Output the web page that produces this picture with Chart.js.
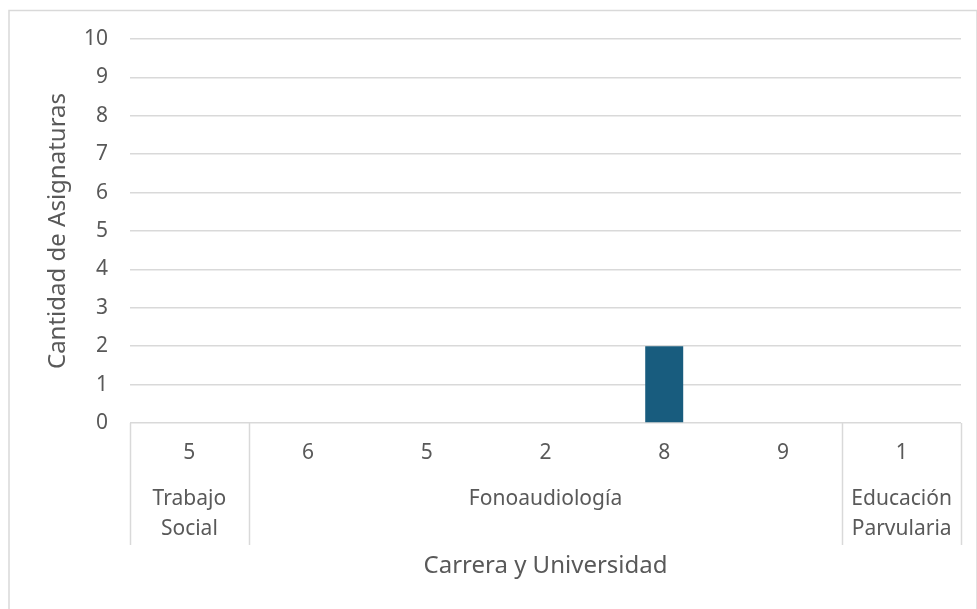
<!DOCTYPE html>
<html>
<head>
<meta charset="utf-8">
<script src="https://cdn.jsdelivr.net/npm/chart.js@4/dist/chart.umd.min.js"></script>
<style>
  html, body { margin: 0; padding: 0; background: #fff; }
  #wrap { width: 977px; height: 609px; }
</style>
</head>
<body>
<div id="wrap"><canvas id="chart"></canvas></div>
<script>
// datos
const categorias = ['5', '6', '5', '2', '8', '9', '1'];
const asignaturas = [0, 0, 0, 0, 2, 0, 0];
const carreras = [['Trabajo', 'Social'], ['Fonoaudiología'], ['Educación', 'Parvularia']];
const carrerasCantidad = [1, 5, 1];
const yMax = 10;

const gris = '#d9d9d9';
const texto = '#595959';
const fuente = "'Noto Sans', 'Liberation Sans', sans-serif";

// Grupos (segundo nivel del eje X) + borde del grafico
const multiNivel = {
  id: 'multiNivel',
  beforeDraw(chart) {
    const ctx = chart.ctx;
    ctx.save();
    ctx.strokeStyle = gris;
    ctx.lineWidth = 1.5;
    ctx.strokeRect(9, 10.5, 968, 600);
    ctx.restore();
  },
  afterDraw(chart) {
    const ctx = chart.ctx;
    const x = chart.scales.x;
    const w = (x.right - x.left) / categorias.length;
    const top = chart.chartArea.bottom;
    const bottom = top + 122;
    ctx.save();
    ctx.strokeStyle = gris;
    ctx.lineWidth = 1.5;
    ctx.fillStyle = texto;
    ctx.font = '21px ' + fuente;
    ctx.textAlign = 'center';
    ctx.textBaseline = 'middle';
    let start = 0;
    const bordes = [0];
    carreras.forEach((lineas, i) => {
      const end = start + carrerasCantidad[i];
      const cx = x.left + (start + end) / 2 * w;
      lineas.forEach((l, j) => ctx.fillText(l, cx, top + 76 + j * 30));
      bordes.push(end);
      start = end;
    });
    bordes.forEach(b => {
      const px = Math.round(x.left + b * w) + 0.5;
      ctx.beginPath();
      ctx.moveTo(px, top);
      ctx.lineTo(px, bottom);
      ctx.stroke();
    });
    ctx.restore();
  }
};

new Chart(document.getElementById('chart'), {
  type: 'bar',
  data: {
    labels: categorias,
    datasets: [{
      data: asignaturas,
      backgroundColor: '#185C7E',
      borderWidth: 0,
      categoryPercentage: 1,
      barPercentage: 0.32
    }]
  },
  options: {
    responsive: true,
    maintainAspectRatio: false,
    animation: false,
    layout: { padding: { left: 40, top: 39, right: 16, bottom: 24 } },
    plugins: { legend: { display: false }, tooltip: { enabled: false } },
    scales: {
      x: {
        grid: { display: false, drawTicks: false },
        border: { display: false },
        ticks: { color: texto, font: { family: fuente, size: 21 }, padding: 17, maxRotation: 0 },
        title: { display: true, text: 'Carrera y Universidad', color: texto, font: { family: fuente, size: 24 } },
        afterFit(scale) { scale.height = 162; }
      },
      y: {
        min: 0,
        max: yMax,
        ticks: { stepSize: 1, color: texto, font: { family: fuente, size: 21 }, padding: 22 },
        grid: { color: gris, lineWidth: 1.5, drawTicks: false },
        border: { display: false },
        title: { display: true, text: 'Cantidad de Asignaturas', color: texto, font: { family: fuente, size: 24 } },
        afterFit(scale) { scale.width = 90; }
      }
    }
  },
  plugins: [multiNivel]
});
</script>
</body>
</html>
